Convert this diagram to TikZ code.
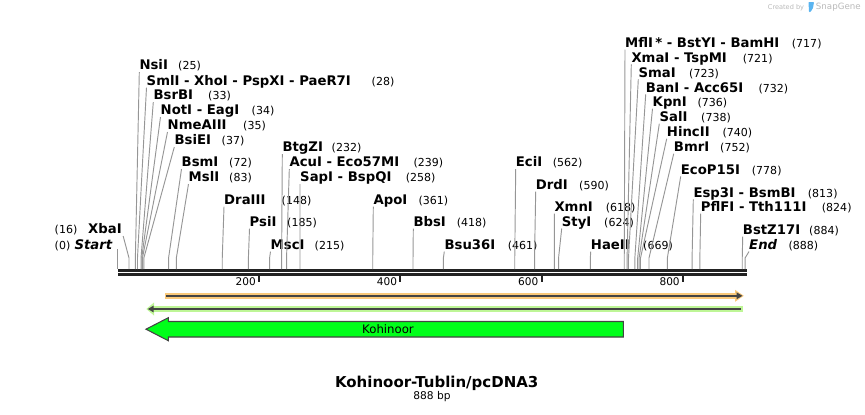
\documentclass[tikz,border=0pt]{standalone}
\usepackage{fontspec}
\setmainfont{DejaVu Sans}
\usetikzlibrary{arrows.meta}

\definecolor{cutgray}{RGB}{150,150,150}
\definecolor{rulerblack}{RGB}{34,34,34}
\definecolor{featdark}{RGB}{68,68,68}
\definecolor{orangehalo}{RGB}{250,201,122}
\definecolor{greenhalo}{RGB}{190,246,150}
\definecolor{kohigreen}{RGB}{0,255,26}
\definecolor{snapblue}{RGB}{90,180,240}
\definecolor{markgray}{RGB}{185,185,185}

\tikzset{
  enzyme/.style={font=\fontsize{11.3}{13}\selectfont\bfseries, inner sep=0pt},
  sitenum/.style={font=\fontsize{9.4}{11}\selectfont, inner sep=0pt},
  cutline/.style={cutgray, line width=0.8pt},
  rulerline/.style={rulerblack, line width=2.2pt},
}

% sequence position -> x
\newcommand{\bpx}[1]{117.7+0.7065*#1}

\begin{document}
\begin{tikzpicture}[x={(0.03cm,0)}, y={(0,-0.03cm)}]
\useasboundingbox (0,0) rectangle (865,414);

% Draw ruler
\draw[rulerline] (118,270.3) -- (746.6,270.3);
\draw[rulerline] (118,274.4) -- (746.6,274.4);
% Draw ticks and numbers
\foreach \t in {200,400,600,800}{
  \coordinate (tick\t) at ({\bpx{\t}},275.5);
  \draw[rulerblack, line width=1.7pt] (tick\t) -- ++(0,6.3);
  \node[font=\fontsize{9}{11}\selectfont, inner sep=0pt, anchor=east] (num\t) at ({\bpx{\t}-3},282) {\t};
}

% Draw cut sites (label right of line)
\foreach \id/\lx/\ly/\nx/\bp/\txt in {
  nsi/139.3/65/178/25/{NsiI},
  sml/146.5/80.5/371.5/28/{SmlI - XhoI - PspXI - PaeR7I},
  bsrb/153.3/95/208/33/{BsrBI},
  not/160.5/110/251.5/34/{NotI - EagI},
  nme/167.5/125/243/35/{NmeAIII},
  bsie/174.3/140/221.5/37/{BsiEI},
  bsm/181.5/162/229/72/{BsmI},
  msl/188.5/177/229/83/{MslI},
  dra/224/199.5/281.5/148/{DraIII},
  psi/249.5/221.5/287/185/{PsiI},
  msc/270.5/244.5/314.5/215/{MscI},
  btgz/282.3/147/331.5/232/{BtgZI},
  acu/289.3/162/413.3/239/{AcuI - Eco57MI},
  sap/300/177/405.7/258/{SapI - BspQI},
  apo/373.3/199.5/418.3/361/{ApoI},
  bbs/413.3/221.5/456.7/418/{BbsI},
  bsu/444.3/244.5/507.7/461/{Bsu36I},
  eci/515.7/162/552.7/562/{EciI},
  drd/535.7/184.5/579/590/{DrdI},
  xmn/554.3/206.5/605.7/618/{XmnI},
  sty/561.7/221.5/604/624/{StyI},
  hae/590.7/244.5/643/669/{HaeII},
  mfl/625/42.7/791.7/717/{MflI\,* - BstYI - BamHI},
  xma/631.3/57.3/742.7/721/{XmaI - TspMI},
  sma/638.3/72.3/689/723/{SmaI},
  ban/645.7/87.3/758.3/732/{BanI - Acc65I},
  kpn/652.5/101.7/697.3/736/{KpnI},
  sal/659.3/116.7/701/738/{SalI},
  hinc/666.7/131.7/722.3/740/{HincII},
  bmr/673.7/146.7/720/752/{BmrI},
  ecop/680.7/169.3/751.7/778/{EcoP15I},
  esp/693.3/192.3/807.7/813/{Esp3I - BsmBI},
  pfl/700.7/206.7/821.7/824/{PflFI - Tth111I},
  bstz/742.7/229.5/809/884/{BstZ17I},
  seqend/749/244.5/788.3/888/{\itshape End}%
}{
  \node[enzyme, anchor=base west] (\id) at (\lx,{\ly+4.7}) {\txt};
  \node[sitenum, anchor=base west] (\id num) at (\nx,{\ly+4.7}) {(\bp)};
  \coordinate (\id bend) at ({\bpx{\bp}},258);
  \coordinate (\id site) at ({\bpx{\bp}},269);
  \draw[cutline] ([yshift=-2pt]\id.base west) -- (\id bend) -- (\id site);
}

% Draw cut sites (label left of line)
\node[enzyme, anchor=base east] (xba) at (122,233.7) {XbaI};
\node[sitenum, anchor=base west] (xba num) at (54.5,233.7) {(16)};
\coordinate (xba bend) at ({\bpx{16}},258);
\coordinate (xba site) at ({\bpx{16}},269);
\draw[cutline] ([yshift=-2pt,xshift=1pt]xba.base east) -- (xba bend) -- (xba site);
\node[enzyme, anchor=base east] (seqstart) at (112.5,249.2) {\itshape Start};
\node[sitenum, anchor=base west] (seqstart num) at (54.5,249.2) {(0)};
\coordinate (seqstart site) at ({\bpx{0}},269);
\draw[cutline] (seqstart site |- seqstart.base) -- (seqstart site);

% Draw features
\draw[orangehalo, line width=5pt] (165,295.8) -- (737,295.8);
\fill[orangehalo] (735,289.8) -- (743.8,295.8) -- (735,301.8) -- cycle;
\draw[featdark, line width=1.9pt, -{Triangle[length=5pt,width=5.5pt]}] (166,295.8) -- (742.5,295.8);
\draw[greenhalo, line width=5pt] (152,309) -- (743,309);
\fill[greenhalo] (154,302.5) -- (146.3,309) -- (154,315.5) -- cycle;
\draw[featdark, line width=1.9pt, -{Triangle[length=5pt,width=5.5pt]}] (740.8,309) -- (147.8,309);
\draw[fill=kohigreen, draw=featdark, line width=0.9pt]
  (623.3,321.5) -- (168.3,321.5) -- (168.3,317.7) -- (146,329.2)
  -- (168.3,340.7) -- (168.3,337) -- (623.3,337) -- cycle;
\node[font=\fontsize{10}{12}\selectfont, inner sep=0pt] (kohinoor) at (388,329.2) {Kohinoor};

% Draw title
\node[font=\fontsize{12.8}{15}\selectfont\bfseries, inner sep=0pt] (title) at (436.7,383.3) {Kohinoor-Tublin/pcDNA3};
\node[font=\fontsize{9.1}{11}\selectfont, inner sep=0pt] (length) at (432,396.7) {888 bp};

% Draw watermark
\node[font=\fontsize{5.6}{7}\selectfont, text=markgray, inner sep=0pt] (created) at (786,7.5) {Created by};
\fill[snapblue, rounded corners=0.6pt] (808.5,2) -- (814,2) -- (813,8) -- (810.5,12) -- (809,12) -- cycle;
\node[font=\fontsize{7.4}{9}\selectfont, text=markgray, inner sep=0pt] (snapgene) at (838.3,7.5) {SnapGene};
\end{tikzpicture}
\end{document}
